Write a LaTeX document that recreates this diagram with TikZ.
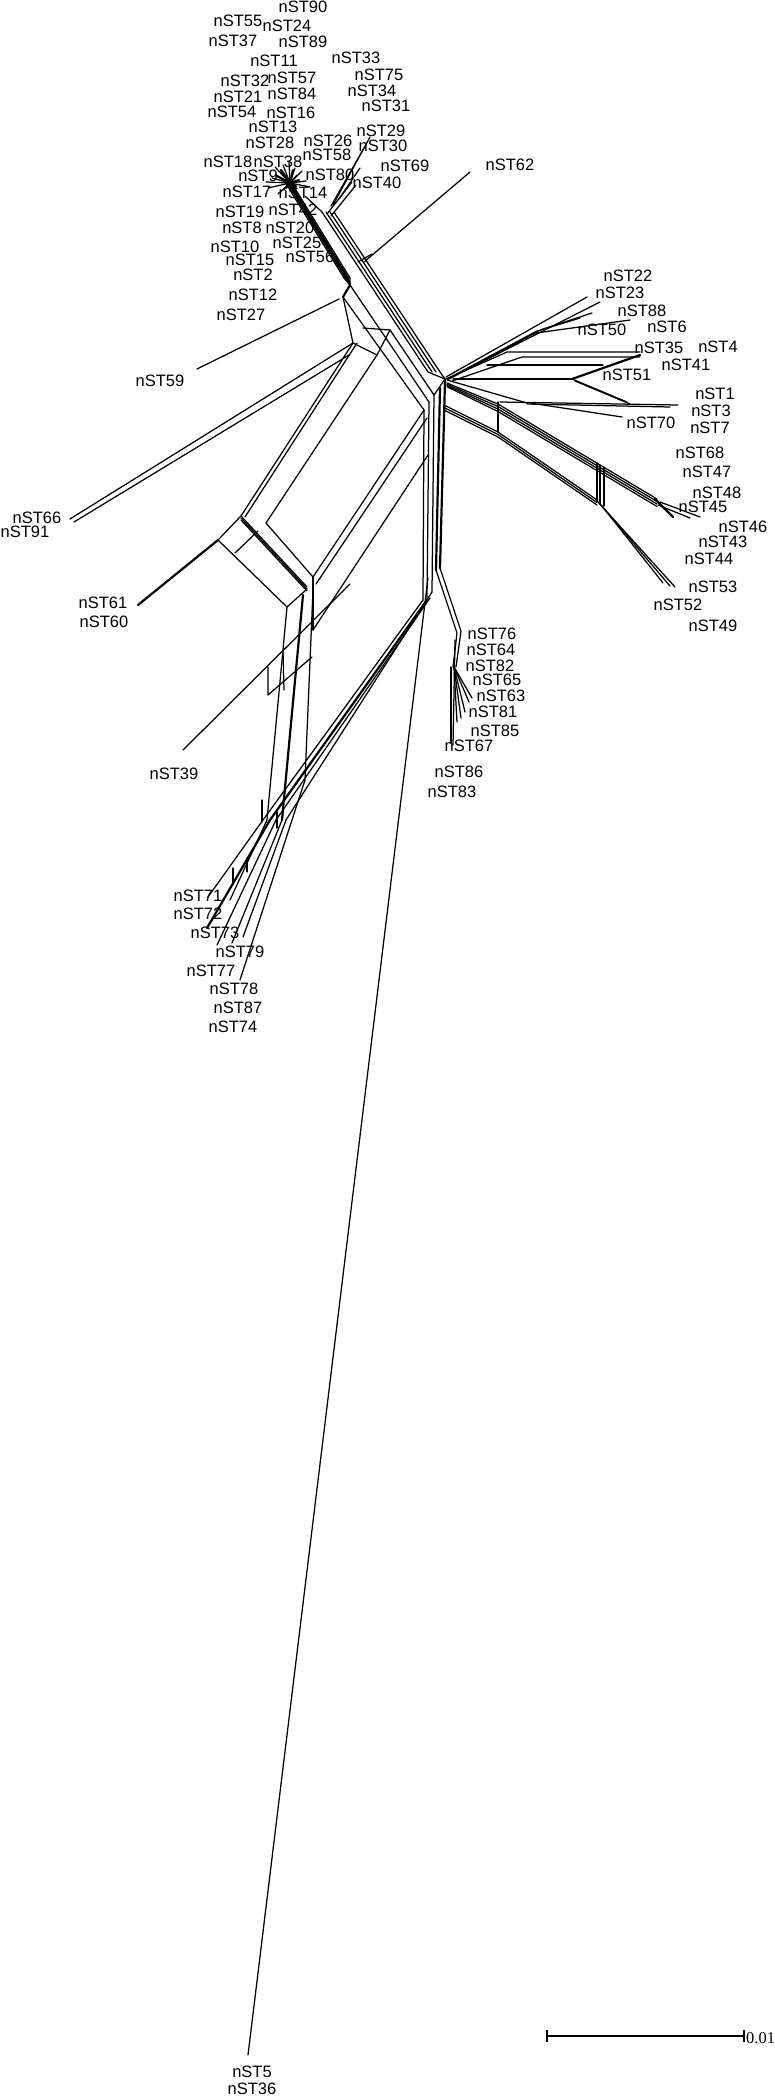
\documentclass[tikz,border=0pt]{standalone}
\usepackage{fontspec}
\setmainfont{Liberation Sans}
\newfontfamily\numfont{Liberation Serif}
\begin{document}
\begin{tikzpicture}[x=1pt,y=-1pt,
  net/.style={line width=1.25pt,line cap=round,line join=round},
  heavy/.style={line width=2.2pt,line cap=round,line join=round},
  lab/.style={font=\fontsize{16.5}{16.5}\selectfont,inner sep=0pt,anchor=center},
  barline/.style={line width=2pt}]
\useasboundingbox (0,0) rectangle (775,2098);

% ---------- labels ----------
\foreach \n/\x/\y in {90/303/7,55/238/21,24/287/26,37/233/41,89/303/42,11/274/61,33/356/58,
  32/245/81,57/292/78,75/379/75,21/238/97,84/292/94,34/372/91,54/232/112,16/291/113,
  31/386/106,13/273/127,29/381/131,28/270/143,26/328/141,30/383/146,58/327/155,
  18/228/162,38/278/162,69/405/166,62/510/165,9/258/176,80/330/175,40/377/183,
  17/247/192,14/303/193,19/240/212,42/293/210,8/242/228,20/290/228,25/297/243,
  10/235/247,56/310/257,15/250/260,2/253/275,12/253/295,27/241/315,
  22/628/276,23/620/293,88/642/311,6/667/327,50/602/330,35/659/348,4/718/347,
  41/686/365,51/627/375,1/715/394,3/711/411,70/651/423,7/710/428,68/700/453,
  47/707/472,48/717/493,45/703/507,46/743/527,43/723/542,44/709/559,53/713/587,
  52/678/605,49/713/626,
  76/492/634,64/491/650,82/490/666,65/497/680,63/501/696,81/493/712,85/495/731,
  67/469/746,86/459/772,83/452/792,
  59/160/381,66/37/518,91/25/532,61/103/603,60/104/622,39/174/774,
  71/198/896,72/198/914,73/215/933,79/240/952,77/211/971,78/234/989,87/238/1008,
  74/233/1027,5/252/2072,36/252/2089}
  \node[lab] (n\n) at (\x,\y) {nST\n};

% ---------- top cluster ----------
\coordinate (hub) at (290,183);
\foreach \a/\b in {275/167,283/165,295/168,302/171,272/178,268/188,278/194,306/181,
  300/197,289/162,280/172,297/175,285/176,310/187,266/182}
  \draw[net] (hub) -- (\a,\b);
\foreach \a/\b in {281/170,293/170,299/180,286/188,277/176,296/186}
  \draw[heavy] (hub) -- (\a,\b);
% main bundle down to the bend
\foreach \d in {-3,-1.5,0,1.5,3}
  \draw[net] (288+\d,182) -- (347+\d,278) -- (350,285);
\draw[heavy] (290,184) -- (348,280);
\draw[heavy] (350,285) -- (343,297);
% nST29/30/69/40 branch
\draw[net] (370,137) -- (333,205);
\draw[net] (364,148) -- (331,206);
\draw[net] (360,168) -- (339,199);
\draw[net] (352,182) -- (327,214);
\draw[net] (356,185) -- (331,216);
% band towards the centre
\foreach \d in {0,4,8,12}
  \draw[net] (322+\d,212) -- (428+\d,372);
\draw[net] (305,196) -- (322,212);
\coordinate (centre) at (445,379);
\draw[net] (428,372) -- (centre);
\draw[net] (440,372) -- (centre);
% nST62
\draw[net] (470,172) -- (364,262);
\draw[net] (358,262) -- (372,254);
% nST59
\draw[net] (197,369) -- (339,299);
% lower right of bend
\draw[net] (343,297) -- (424,410);
\draw[net] (350,285) -- (429,402);
\draw[net] (343,297) -- (353,343);
\draw[net] (353,343) -- (377,355);
\draw[net] (363,328) -- (390,330);
\draw[net] (390,330) -- (434,395);
\draw[net] (377,355) -- (390,330);

% ---------- left box ----------
\draw[net] (70,519) -- (353,343);
\draw[net] (74,522) -- (349,355);
\draw[net] (353,343) -- (241,516);
\draw[net] (357,343) -- (245,517);
\draw[net] (377,355) -- (266,523);
\draw[net] (241,516) -- (218,540);
\foreach \d in {0,2,4}
  \draw[net] (241,516+\d) -- (307,587+\d);
\draw[net] (218,540) -- (287,607);
\draw[net] (266,523) -- (313,577);
\draw[net] (287,607) -- (307,589);
\draw[net] (235,553) -- (258,531);
\draw[heavy] (138,605) -- (218,540);
% diagonals from box to the vertical bundle
\draw[net] (313,577) -- (424,410);
\draw[net] (316,584) -- (427,418);
\draw[net] (313,630) -- (428,455);
% lower-left column
\draw[net] (287,607) -- (267,820);
\draw[heavy] (303,595) -- (282,820);
\draw[net] (313,590) -- (305,780);
\draw[net] (313,577) -- (313,630);
% nST39
\draw[net] (183,750) -- (350,584);
\draw[net] (268,667) -- (268,695) -- (312,657);
\draw[net] (283,650) -- (284,690);

% ---------- central vertical bundle ----------
\draw[net] (424,410) -- (423,600);
\draw[net] (429,402) -- (427,600);
\draw[net] (434,395) -- (432,592);
\draw[heavy] (440,388) -- (436,570);
\draw[heavy] (445,381) -- (440,568);
\draw[net] (centre) -- (445,381);
\draw[net] (centre) -- (434,395);

% to nST76 cluster
\draw[net] (436,570) -- (457,633) -- (453,667);
\draw[net] (440,568) -- (461,631) -- (456,667);
\coordinate (fan76) at (454,667);
\foreach \a/\b in {472/698,469/702,465/712,461/718,457/722}
  \draw[net] (fan76) -- (\a,\b);
\draw[net] (455,640) -- (453,745);
\draw[net] (451,667) -- (451,743);

% diagonal band to nST71 cluster
\draw[net] (423,600) -- (263,820);
\draw[heavy] (427,600) -- (270,820);
\draw[net] (430,598) -- (276,820);
\draw[net] (432,592) -- (286,820);
\draw[net] (263,820) -- (208,897);
\draw[heavy] (270,820) -- (207,928);
\draw[net] (276,820) -- (217,945);
\draw[net] (282,820) -- (232,943);
\draw[net] (286,820) -- (243,937);
\draw[net] (305,780) -- (240,980);
\draw[net] (267,820) -- (230,900);
\foreach \x/\a/\b in {233/868/884,247/858/872,262/800/822,277/812/828}
  \draw[net] (\x,\a) -- (\x,\b);

% nST5
\draw[net] (428,578) -- (248,2055);

% ---------- right cluster ----------
\draw[net] (446,377) -- (587,297);
\draw[net] (450,378) -- (600,302);
\draw[heavy] (448,379) -- (538,331);
\draw[net] (538,331) -- (580,318);
\draw[net] (536,333) -- (630,320);
\draw[net] (540,330) -- (592,313);
\draw[net] (446,379) -- (507,352) -- (640,352);
\draw[net] (452,381) -- (522,357) -- (640,357);
\draw[net] (487,365) -- (603,365);
\draw[net] (453,379) -- (572,379);
\draw[heavy] (572,379) -- (640,355);
\draw[net] (572,379) -- (627,402);
\draw[net] (575,381) -- (630,404);
\draw[net] (500,402) -- (678,405);
\draw[net] (527,404) -- (670,407);
\draw[net] (447,380) -- (527,403);
\draw[net] (530,403) -- (622,417);
\draw[net] (498,402) -- (498,432);
% band 1
\foreach \d in {0,2.5,5,7.5}
  \draw[net] (447,383+\d*0.5) -- (498,404+\d) -- (657,499+\d);
\draw[heavy] (655,499) -- (673,517);
\draw[net] (660,502) -- (700,517);
\draw[net] (658,505) -- (690,518);
% band 2
\foreach \d in {0,2.5,5}
  \draw[net] (444,405+\d) -- (498,432+\d) -- (597,500+\d);
\draw[net] (598,502) -- (675,587);
\draw[net] (602,506) -- (663,583);
\draw[net] (600,504) -- (670,586);
\foreach \x/\d in {597/0,600/2,604/4}
  \draw[net] (\x,463+\d) -- (\x,502+\d);

% ---------- scale bar ----------
\coordinate (sb1) at (547,2036);
\coordinate (sb2) at (744,2036);
\draw[barline] (sb1) -- (sb2);
\draw[barline] ([yshift=-6pt]sb1) -- ([yshift=6pt]sb1);
\draw[barline] ([yshift=-6pt]sb2) -- ([yshift=6pt]sb2);
\node[anchor=west,inner sep=0pt,font=\numfont\fontsize{16.5}{16.5}\selectfont] (sbl) at (746,2038) {0.01};
\end{tikzpicture}
\end{document}
